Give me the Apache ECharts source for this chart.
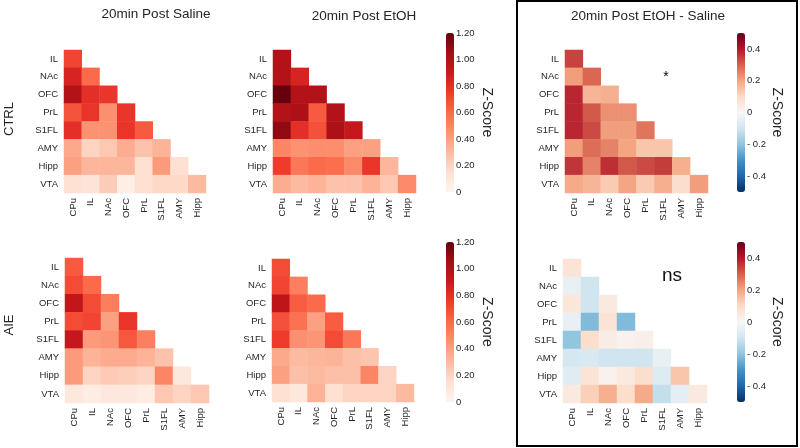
<!DOCTYPE html>
<html><head><meta charset="utf-8">
<script src="https://cdn.jsdelivr.net/npm/echarts@6/dist/echarts.min.js"></script>
<style>html,body{margin:0;padding:0;background:#fff}#c{width:800px;height:448px}</style>
</head><body><div id="c"></div>
<script>
const rowNames = ['IL','NAc','OFC','PrL','S1FL','AMY','Hipp','VTA'];
const colNames = ['CPu','IL','NAc','OFC','PrL','S1FL','AMY','Hipp'];
const titles = ['20min Post Saline','20min Post EtOH','20min Post EtOH - Saline'];
const groupLabels = ['CTRL','AIE'];
const redsTicks = [0,0.2,0.4,0.6,0.8,1.0,1.2];
const diffTicks = [-0.4,-0.2,0,0.2,0.4];

const ctrlSaline = [
[0.72],
[0.85,0.60],
[1.00,0.80,0.77],
[0.67,0.78,0.46,0.78],
[0.80,0.45,0.45,0.78,0.65],
[0.37,0.20,0.25,0.35,0.27,0.33],
[0.40,0.32,0.32,0.32,0.15,0.42,0.15],
[0.15,0.12,0.23,0.05,0.15,0.18,0.18,0.30]];
const ctrlEtoh = [
[1.00],
[1.00,0.85],
[1.20,1.00,1.00],
[1.00,1.02,0.65,1.00],
[1.10,0.80,0.68,1.02,0.92],
[0.50,0.45,0.47,0.47,0.40,0.40],
[0.75,0.55,0.60,0.58,0.48,0.77,0.32],
[0.35,0.30,0.33,0.27,0.27,0.33,0.25,0.48]];
const ctrlDiff = [
[0.34],
[0.21,0.29],
[0.38,0.17,0.18],
[0.38,0.31,0.23,0.23],
[0.38,0.33,0.21,0.21,0.27],
[0.21,0.28,0.25,0.20,0.14,0.14],
[0.36,0.25,0.37,0.31,0.33,0.35,0.18],
[0.19,0.17,0.13,0.20,0.13,0.18,0.09,0.21]];
const aieSaline = [
[0.65],
[0.70,0.60],
[0.93,0.70,0.53],
[0.70,0.72,0.40,0.78],
[0.92,0.42,0.44,0.66,0.52],
[0.42,0.33,0.36,0.36,0.33,0.27],
[0.42,0.20,0.24,0.22,0.20,0.50,0.10],
[0.10,0.06,0.10,0.10,0.06,0.25,0.20,0.25]];
const aieEtoh = [
[0.70],
[0.72,0.52],
[0.95,0.64,0.60],
[0.68,0.57,0.40,0.64],
[0.75,0.46,0.44,0.70,0.55],
[0.37,0.30,0.32,0.33,0.28,0.26],
[0.40,0.28,0.30,0.28,0.28,0.50,0.20],
[0.15,0.10,0.33,0.15,0.20,0.20,0.20,0.30]];
const aieDiff = [
[0.07],
[-0.04,-0.10],
[0.06,-0.10,0.05],
[-0.04,-0.22,0.07,-0.22],
[-0.20,0.09,0.04,0.02,0.03],
[-0.09,-0.08,-0.10,-0.10,-0.10,-0.04],
[-0.06,0.07,0.02,0.05,0.09,-0.07,0.14],
[0.05,0.12,0.18,0.09,0.19,-0.12,-0.05,0.05]];

const reds = ['#fff5f0','#fee0d2','#fcbba1','#fc9272','#fb6a4a','#ef3b2c','#cb181d','#a50f15','#67000d'];
const rdbu = ['#053061','#2166ac','#4393c3','#92c5de','#d1e5f0','#f7f7f7','#fddbc7','#f4a582','#d6604d','#b2182b','#67001f'];
const FONT = "'Liberation Sans', Arial, sans-serif";
const TXT = '#262626';

const panels = [ctrlSaline, ctrlEtoh, ctrlDiff, aieSaline, aieEtoh, aieDiff];
const gridBoxes = [
  {left:64, top:50, width:142, height:143},
  {left:273, top:50, width:143, height:143},
  {left:565, top:50, width:143, height:143},
  {left:65, top:258, width:144, height:145},
  {left:272, top:259, width:142, height:143},
  {left:563, top:259, width:144, height:144}
];
const barBoxes = [
  {left:446, top:33, width:8, height:159},
  {left:446, top:242, width:8, height:160},
  {left:737, top:33, width:8, height:159},
  {left:737, top:242, width:8, height:160}
];

function toCells(tri){
  const out = [];
  tri.forEach((row, r) => row.forEach((v, c) => out.push([c, r, v])));
  return out;
}

const grid = [], xAxis = [], yAxis = [], series = [];
panels.forEach((p, i) => {
  grid.push(Object.assign({containLabel:false}, gridBoxes[i]));
  xAxis.push({type:'category', gridIndex:i, data:colNames, position:'bottom',
    axisLine:{show:false}, axisTick:{show:false}, splitLine:{show:false},
    axisLabel:{rotate:90, fontSize:9.5, margin:5, color:TXT, fontFamily:FONT, interval:0}});
  yAxis.push({type:'category', gridIndex:i, data:rowNames, inverse:true,
    axisLine:{show:false}, axisTick:{show:false}, splitLine:{show:false},
    axisLabel:{fontSize:9.5, margin:6, color:TXT, fontFamily:FONT, interval:0}});
  series.push({type:'heatmap', xAxisIndex:i, yAxisIndex:i, data:toCells(p),
    itemStyle:{borderWidth:0}, emphasis:{disabled:true}, silent:true});
});
barBoxes.forEach((b, k) => {
  const gi = 6 + k;
  const isDiff = k >= 2;
  grid.push(Object.assign({}, b));
  xAxis.push({type:'value', gridIndex:gi, show:false});
  yAxis.push({type:'value', gridIndex:gi, position:'right',
    min: isDiff ? -0.5 : 0, max: isDiff ? 0.5 : 1.2,
    interval: isDiff ? undefined : 0.2,
    axisLine:{show:false}, axisTick:{show:false}, splitLine:{show:false},
    name:'Z-Score', nameLocation:'middle', nameRotate:-90, nameGap:isDiff ? 25 : 26,
    nameTextStyle:{fontSize:14, color:TXT, fontFamily:FONT},
    axisLabel:{fontSize:9.5, margin:2, color:TXT, fontFamily:FONT,
      customValues: isDiff ? diffTicks : redsTicks,
      formatter: v => isDiff ? (v < 0 ? '- ' + Math.abs(v).toFixed(1) : (v === 0 ? '0' : v.toFixed(1)))
                             : (v === 0 ? '0' : v.toFixed(2))}});
});

const visualMap = [
  {type:'continuous', min:0, max:1.2, seriesIndex:[0,1], left:446, top:33, itemWidth:8, itemHeight:159, padding:0, calculable:false, hoverLink:false, inRange:{color:reds}},
  {type:'continuous', min:0, max:1.2, seriesIndex:[3,4], left:446, top:242, itemWidth:8, itemHeight:160, padding:0, calculable:false, hoverLink:false, inRange:{color:reds}},
  {type:'continuous', min:-0.5, max:0.5, seriesIndex:[2], left:737, top:33, itemWidth:8, itemHeight:159, padding:0, calculable:false, hoverLink:false, inRange:{color:rdbu}},
  {type:'continuous', min:-0.5, max:0.5, seriesIndex:[5], left:737, top:242, itemWidth:8, itemHeight:160, padding:0, calculable:false, hoverLink:false, inRange:{color:rdbu}}
];

const graphic = [
  {type:'rect', shape:{x:517, y:1, width:280, height:445}, style:{fill:'none', stroke:'#000', lineWidth:2}, silent:true},
  {type:'text', x:156, y:14, style:{text:titles[0], font:'13.5px ' + FONT, fill:TXT, align:'center', verticalAlign:'middle'}},
  {type:'text', x:364, y:16, style:{text:titles[1], font:'13.5px ' + FONT, fill:TXT, align:'center', verticalAlign:'middle'}},
  {type:'text', x:648, y:16, style:{text:titles[2], font:'13.5px ' + FONT, fill:TXT, align:'center', verticalAlign:'middle'}},
  {type:'text', x:9, y:119, rotation:Math.PI/2, style:{text:groupLabels[0], font:'13px ' + FONT, fill:TXT, align:'center', verticalAlign:'middle'}},
  {type:'text', x:9, y:325, rotation:Math.PI/2, style:{text:groupLabels[1], font:'13px ' + FONT, fill:TXT, align:'center', verticalAlign:'middle'}},
  {type:'text', x:666, y:77, style:{text:'*', font:'14px ' + FONT, fill:'#000', align:'center', verticalAlign:'middle'}},
  {type:'text', x:672, y:276, style:{text:'ns', font:'19px ' + FONT, fill:'#111', align:'center', verticalAlign:'middle'}}
];

const chart = echarts.init(document.getElementById('c'), null, {renderer:'canvas'});
chart.setOption({animation:false, backgroundColor:'#fff', textStyle:{fontFamily:FONT},
  grid, xAxis, yAxis, series, visualMap, graphic});
</script></body></html>
